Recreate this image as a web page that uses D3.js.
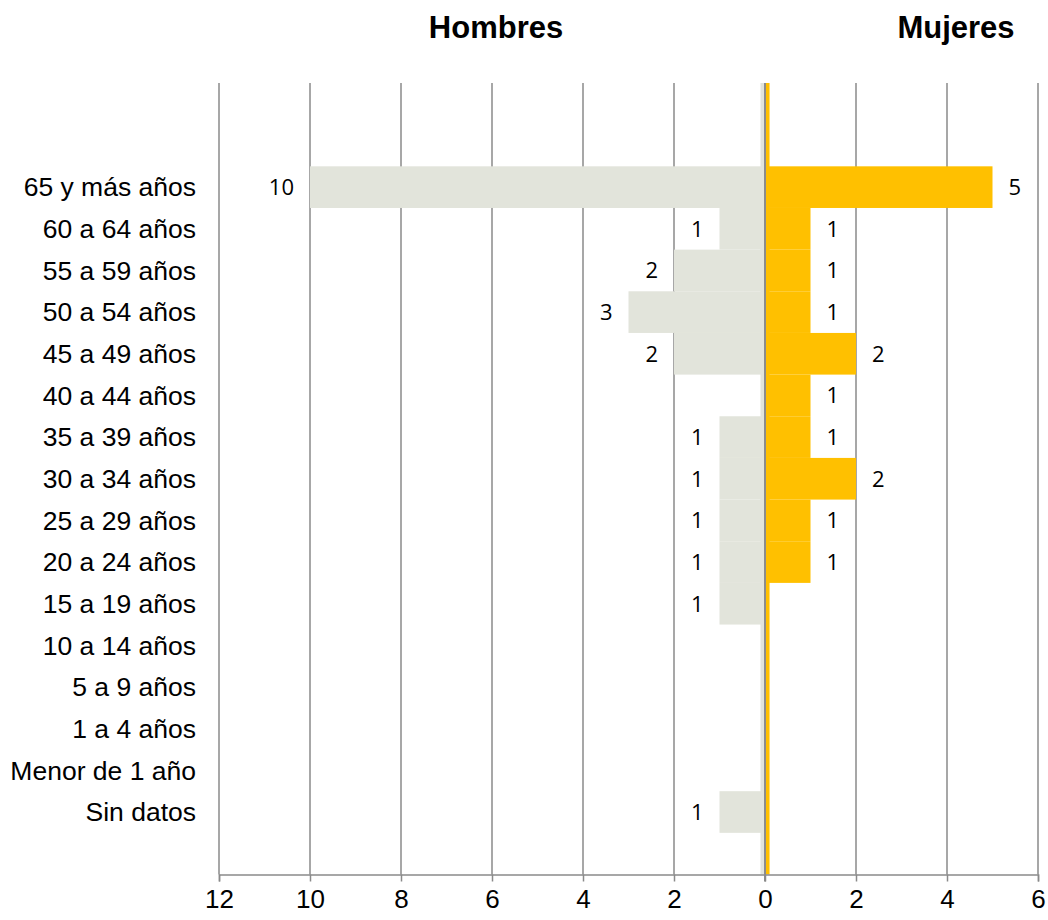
<!DOCTYPE html>
<html lang="es">
<head>
<meta charset="utf-8">
<script src="https://cdn.jsdelivr.net/npm/d3@7"></script>
<style>
  html, body { margin: 0; padding: 0; background: #ffffff; }
  svg { display: block; }
</style>
</head>
<body>
<div id="chart"></div>
<script>
// Age groups, top to bottom
const categories = [
  "65 y más años", "60 a 64 años", "55 a 59 años", "50 a 54 años",
  "45 a 49 años", "40 a 44 años", "35 a 39 años", "30 a 34 años",
  "25 a 29 años", "20 a 24 años", "15 a 19 años", "10 a 14 años",
  "5 a 9 años", "1 a 4 años", "Menor de 1 año", "Sin datos"
];
const hombres = [10, 1, 2, 3, 2, 0, 1, 1, 1, 1, 1, 0, 0, 0, 0, 1];
const mujeres = [5, 1, 1, 1, 2, 1, 1, 2, 1, 1, 0, 0, 0, 0, 0, 0];
const tickValues = [-12, -10, -8, -6, -4, -2, 0, 2, 4, 6];
const seriesTitles = ["Hombres", "Mujeres"];
// thin strip each series keeps along the centre line, over the whole height
const centreStrip = 0.1;
// empty rows above and below the age groups
const blankRowsTop = 2, blankRowsBottom = 1;

const W = 1048, H = 920;
const plot = { left: 219, right: 1038, top: 83, bottom: 874.5 };
const grey = "#E2E4DB", orange = "#FFC000", gridColor = "#8A8A8A";

const svg = d3.select("#chart").append("svg")
  .attr("width", W).attr("height", H);

const x = d3.scaleLinear().domain([-12, 6]).range([plot.left, plot.right]);
const slots = d3.range(blankRowsTop + categories.length + blankRowsBottom);
const y = d3.scaleBand().domain(slots).range([plot.top, plot.bottom]).padding(0);
const rowY = i => y(i + blankRowsTop);
const rowMid = i => rowY(i) + y.bandwidth() / 2;

// rows with their index kept, non-zero values only
const rowsOf = values => values.map((v, i) => ({ v, i })).filter(r => r.v > 0);
const maleRows = rowsOf(hombres);
const femaleRows = rowsOf(mujeres);

// vertical gridlines
svg.append("g").selectAll("line").data(tickValues).join("line")
  .attr("x1", d => x(d)).attr("x2", d => x(d))
  .attr("y1", plot.top).attr("y2", plot.bottom)
  .attr("stroke", gridColor).attr("stroke-width", 1.5);

// centre strips
svg.append("rect")
  .attr("x", x(-centreStrip)).attr("width", x(0) - x(-centreStrip))
  .attr("y", plot.top).attr("height", plot.bottom - plot.top)
  .attr("fill", grey);
svg.append("rect")
  .attr("x", x(0)).attr("width", x(centreStrip) - x(0))
  .attr("y", plot.top).attr("height", plot.bottom - plot.top)
  .attr("fill", orange);

// male bars (left)
svg.append("g").selectAll("rect").data(maleRows).join("rect")
  .attr("x", r => x(-r.v)).attr("width", r => x(0) - x(-r.v))
  .attr("y", r => rowY(r.i)).attr("height", y.bandwidth())
  .attr("fill", grey);

// female bars (right)
svg.append("g").selectAll("rect").data(femaleRows).join("rect")
  .attr("x", x(0)).attr("width", r => x(r.v) - x(0))
  .attr("y", r => rowY(r.i)).attr("height", y.bandwidth())
  .attr("fill", orange);

// zero line
svg.append("line")
  .attr("x1", x(0)).attr("x2", x(0))
  .attr("y1", plot.top).attr("y2", plot.bottom + 7)
  .attr("stroke", "#8C8C8C").attr("stroke-width", 2);

// bottom axis
const xAxis = d3.axisBottom(x).tickValues(tickValues)
  .tickFormat(d => Math.abs(d)).tickSizeOuter(0).tickSize(7).tickPadding(8);
const ax = svg.append("g").attr("transform", `translate(0,${plot.bottom})`).call(xAxis);
ax.select(".domain").attr("stroke", gridColor).attr("stroke-width", 1.5);
ax.selectAll(".tick line").attr("stroke", gridColor).attr("stroke-width", 1.5);
ax.selectAll(".tick text")
  .attr("font-family", "'Liberation Sans', Arial, sans-serif")
  .attr("font-size", 26).attr("fill", "#000");

// category labels
svg.append("g").selectAll("text").data(categories).join("text")
  .attr("x", 196).attr("y", (d, i) => rowMid(i))
  .attr("dy", "0.35em").attr("text-anchor", "end")
  .attr("font-family", "'Liberation Sans', Arial, sans-serif")
  .attr("font-size", 26.5).attr("fill", "#000")
  .text(d => d);

// value labels
const valueFont = "'Open Sans', 'Noto Sans', sans-serif";
svg.append("g").selectAll("text").data(maleRows).join("text")
  .attr("x", r => x(-r.v) - 16).attr("y", r => rowMid(r.i))
  .attr("dy", "0.36em").attr("text-anchor", "end")
  .attr("font-family", valueFont).attr("font-size", 22).attr("fill", "#000")
  .text(r => r.v);
svg.append("g").selectAll("text").data(femaleRows).join("text")
  .attr("x", r => x(r.v) + 16).attr("y", r => rowMid(r.i))
  .attr("dy", "0.36em").attr("text-anchor", "start")
  .attr("font-family", valueFont).attr("font-size", 22).attr("fill", "#000")
  .text(r => r.v);

// series titles
svg.append("g").selectAll("text").data(seriesTitles).join("text")
  .attr("x", (d, i) => i === 0 ? 496 : 956).attr("y", 38)
  .attr("text-anchor", "middle")
  .attr("font-family", "'Liberation Sans', Arial, sans-serif")
  .attr("font-weight", "bold").attr("font-size", 31).attr("fill", "#000")
  .text(d => d);
</script>
</body>
</html>
